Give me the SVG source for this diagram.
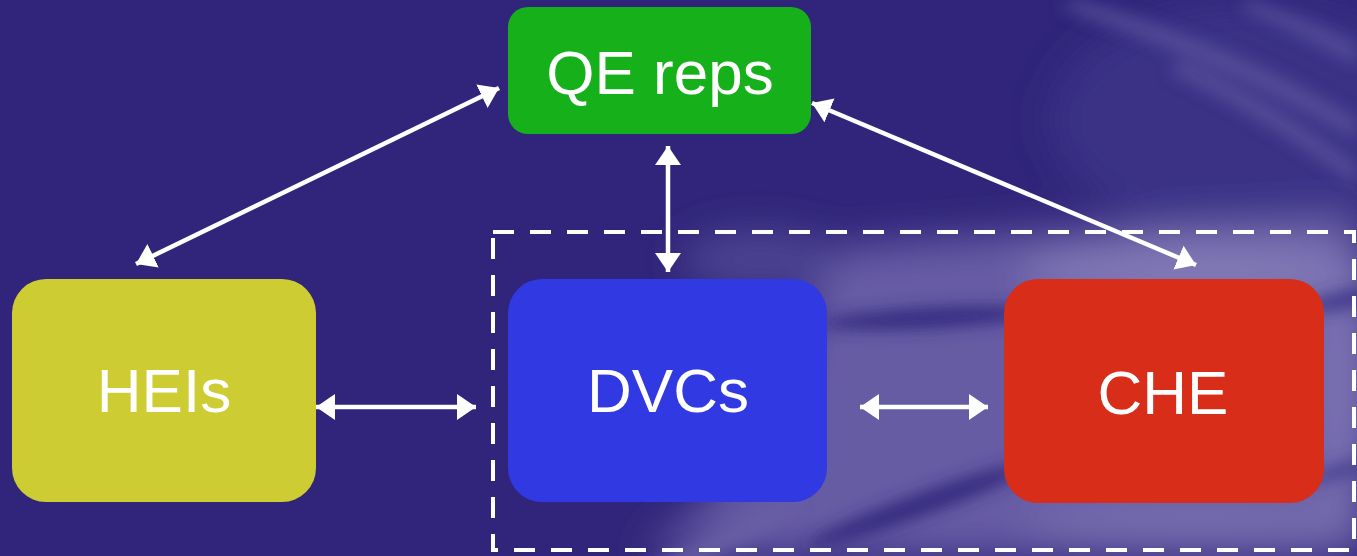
<svg xmlns="http://www.w3.org/2000/svg" width="1357" height="556" viewBox="0 0 1357 556">
  <defs>
    <style>
      .lbl { font-family: "Liberation Sans", Arial, sans-serif; font-size: 62px; fill: #ffffff; text-anchor: middle; }
      .conn { stroke: #ffffff; stroke-width: 4.5; fill: none; marker-start: url(#ah); marker-end: url(#ah); }
    </style>
    <marker id="ah" markerUnits="userSpaceOnUse" markerWidth="20" markerHeight="27" refX="19" refY="13" orient="auto-start-reverse" viewBox="0 0 20 26">
      <path d="M0,0 L19,13 L0,26 Z" fill="#ffffff"/>
    </marker>
    <filter id="b20" x="-50%" y="-50%" width="200%" height="200%">
      <feGaussianBlur stdDeviation="20"/>
    </filter>
    <filter id="b8" x="-50%" y="-50%" width="200%" height="200%">
      <feGaussianBlur stdDeviation="8"/>
    </filter>
  </defs>

  <g id="background">
    <rect x="0" y="0" width="1357" height="556" fill="#30257A"/>
    <g filter="url(#b20)">
      <ellipse cx="1250" cy="120" rx="200" ry="120" fill="#3A3086"/>
      <path d="M820,250 C950,235 1150,225 1357,215 L1357,556 L640,556 C720,500 800,420 820,250 Z" fill="#665CA4"/>
      <ellipse cx="1200" cy="270" rx="180" ry="30" fill="#8279B6"/>
      <ellipse cx="1200" cy="525" rx="180" ry="25" fill="#766DAF"/>
      <ellipse cx="1345" cy="380" rx="30" ry="140" fill="#7B72B2"/>
      <ellipse cx="760" cy="260" rx="80" ry="30" fill="#4E4492"/>
    </g>
    <g filter="url(#b8)">
      <ellipse cx="930" cy="318" rx="110" ry="10" fill="#362B80" transform="rotate(-3 930 318)"/>
      <ellipse cx="920" cy="505" rx="120" ry="11" fill="#35297E" transform="rotate(-20 920 505)"/>
      <ellipse cx="700" cy="552" rx="110" ry="8" fill="#6A60A6" transform="rotate(-25 700 552)"/>
      <ellipse cx="1345" cy="300" rx="40" ry="8" fill="#3E3488" transform="rotate(-12 1345 300)"/>
      <ellipse cx="1345" cy="470" rx="40" ry="7" fill="#4A3F90" transform="rotate(-15 1345 470)"/>
      <g fill="#5E549E" opacity="0.75">
        <path d="M1080,0 C1180,30 1280,70 1357,120 L1357,140 C1270,90 1170,45 1060,8 Z"/>
        <path d="M1180,60 C1250,90 1310,130 1357,165 L1357,185 C1300,145 1240,105 1170,72 Z"/>
        <path d="M1250,0 C1290,15 1330,30 1357,45 L1357,65 C1320,44 1280,25 1240,8 Z"/>
      </g>
    </g>
  </g>

  <rect id="boundary" x="493" y="232" width="861" height="318" fill="none" stroke="#ffffff" stroke-width="4" stroke-dasharray="21 16"/>

  <g id="connectors">
    <line class="conn" x1="136" y1="264" x2="499" y2="88"/>
    <line class="conn" x1="812" y1="103" x2="1196" y2="265"/>
    <line class="conn" x1="668" y1="146" x2="668" y2="272"/>
    <line class="conn" x1="316" y1="407" x2="476" y2="407"/>
    <line class="conn" x1="860" y1="407" x2="988" y2="407"/>
  </g>

  <g id="qe-reps">
    <rect x="508" y="7" width="303" height="127" rx="20" fill="#16B01A"/>
    <text class="lbl" x="660" y="94">QE reps</text>
  </g>
  <g id="heis">
    <rect x="12" y="279" width="304" height="223" rx="34" fill="#CDCD33"/>
    <text class="lbl" x="164" y="412">HEIs</text>
  </g>
  <g id="dvcs">
    <rect x="508" y="279" width="319" height="223" rx="34" fill="#3139E3"/>
    <text class="lbl" x="668" y="412">DVCs</text>
  </g>
  <g id="che">
    <rect x="1004" y="279" width="320" height="224" rx="34" fill="#D82D19"/>
    <text class="lbl" x="1163" y="414">CHE</text>
  </g>
</svg>
